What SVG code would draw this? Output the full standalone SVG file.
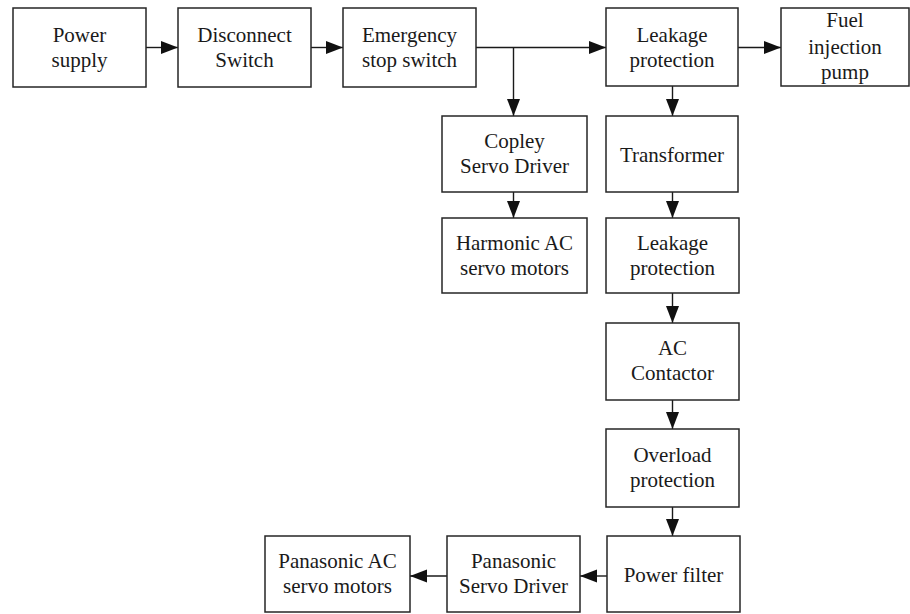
<svg xmlns="http://www.w3.org/2000/svg" width="910" height="614" viewBox="0 0 910 614">
  <style>
    .box { fill: #ffffff; stroke: #262626; stroke-width: 1.5; }
    .lbl { font-family: "Liberation Serif", "Times New Roman", serif; font-size: 21px; fill: #1a1a1a; text-anchor: middle; }
    .wire { fill: none; stroke: #1a1a1a; stroke-width: 1.4; }
  </style>
  <defs>
    <marker id="arrow" markerUnits="userSpaceOnUse" markerWidth="18" markerHeight="14" refX="17" refY="6.5" orient="auto">
      <path d="M0,0 L17,6.5 L0,13 Z" fill="#111111"/>
    </marker>
  </defs>

  <rect width="910" height="614" fill="#ffffff"/>

  <!-- connectors -->
  <g id="connectors">
    <line class="wire" x1="146" y1="47.5" x2="178" y2="47.5" marker-end="url(#arrow)"/>
    <line class="wire" x1="311" y1="47.5" x2="343" y2="47.5" marker-end="url(#arrow)"/>
    <line class="wire" x1="476" y1="47.5" x2="606" y2="47.5" marker-end="url(#arrow)"/>
    <line class="wire" x1="513.5" y1="47.5" x2="513.5" y2="116" marker-end="url(#arrow)"/>
    <line class="wire" x1="738" y1="47.5" x2="781" y2="47.5" marker-end="url(#arrow)"/>
    <line class="wire" x1="513.5" y1="192" x2="513.5" y2="218" marker-end="url(#arrow)"/>
    <line class="wire" x1="672.5" y1="86" x2="672.5" y2="116" marker-end="url(#arrow)"/>
    <line class="wire" x1="672.5" y1="192" x2="672.5" y2="218" marker-end="url(#arrow)"/>
    <line class="wire" x1="672.5" y1="293" x2="672.5" y2="323" marker-end="url(#arrow)"/>
    <line class="wire" x1="672.5" y1="400" x2="672.5" y2="429" marker-end="url(#arrow)"/>
    <line class="wire" x1="672.5" y1="507" x2="672.5" y2="536" marker-end="url(#arrow)"/>
    <line class="wire" x1="607" y1="576" x2="580" y2="576" marker-end="url(#arrow)"/>
    <line class="wire" x1="447" y1="576" x2="410" y2="576" marker-end="url(#arrow)"/>
  </g>

  <g id="power-supply">
    <rect class="box" x="13" y="8" width="133" height="79"/>
    <text class="lbl" x="79.5" y="42">Power</text>
    <text class="lbl" x="79.5" y="67">supply</text>
  </g>
  <g id="disconnect-switch">
    <rect class="box" x="178" y="8" width="133" height="79"/>
    <text class="lbl" x="244.5" y="42">Disconnect</text>
    <text class="lbl" x="244.5" y="67">Switch</text>
  </g>
  <g id="emergency-stop">
    <rect class="box" x="343" y="8" width="133" height="79"/>
    <text class="lbl" x="409.5" y="42">Emergency</text>
    <text class="lbl" x="409.5" y="67">stop switch</text>
  </g>
  <g id="leakage-protection-1">
    <rect class="box" x="606" y="8" width="132" height="78"/>
    <text class="lbl" x="672" y="42">Leakage</text>
    <text class="lbl" x="672" y="67">protection</text>
  </g>
  <g id="fuel-pump">
    <rect class="box" x="781" y="8" width="128" height="78"/>
    <text class="lbl" x="845" y="27">Fuel</text>
    <text class="lbl" x="845" y="54">injection</text>
    <text class="lbl" x="845" y="79">pump</text>
  </g>
  <g id="copley-driver">
    <rect class="box" x="442" y="116" width="145" height="76"/>
    <text class="lbl" x="514.5" y="148">Copley</text>
    <text class="lbl" x="514.5" y="173">Servo Driver</text>
  </g>
  <g id="harmonic-motors">
    <rect class="box" x="442" y="218" width="145" height="75"/>
    <text class="lbl" x="514.5" y="250">Harmonic AC</text>
    <text class="lbl" x="514.5" y="275">servo motors</text>
  </g>
  <g id="transformer">
    <rect class="box" x="606" y="116" width="132" height="76"/>
    <text class="lbl" x="672" y="161.5">Transformer</text>
  </g>
  <g id="leakage-protection-2">
    <rect class="box" x="606" y="218" width="133" height="75"/>
    <text class="lbl" x="672.5" y="250">Leakage</text>
    <text class="lbl" x="672.5" y="275">protection</text>
  </g>
  <g id="ac-contactor">
    <rect class="box" x="606" y="323" width="133" height="77"/>
    <text class="lbl" x="672.5" y="355">AC</text>
    <text class="lbl" x="672.5" y="380">Contactor</text>
  </g>
  <g id="overload-protection">
    <rect class="box" x="606" y="429" width="133" height="78"/>
    <text class="lbl" x="672.5" y="462">Overload</text>
    <text class="lbl" x="672.5" y="487">protection</text>
  </g>
  <g id="power-filter">
    <rect class="box" x="607" y="536" width="133" height="76"/>
    <text class="lbl" x="673.5" y="582">Power filter</text>
  </g>
  <g id="panasonic-driver">
    <rect class="box" x="447" y="536" width="133" height="76"/>
    <text class="lbl" x="513.5" y="568">Panasonic</text>
    <text class="lbl" x="513.5" y="593">Servo Driver</text>
  </g>
  <g id="panasonic-motors">
    <rect class="box" x="265" y="536" width="145" height="76"/>
    <text class="lbl" x="337.5" y="568">Panasonic AC</text>
    <text class="lbl" x="337.5" y="593">servo motors</text>
  </g>
</svg>
